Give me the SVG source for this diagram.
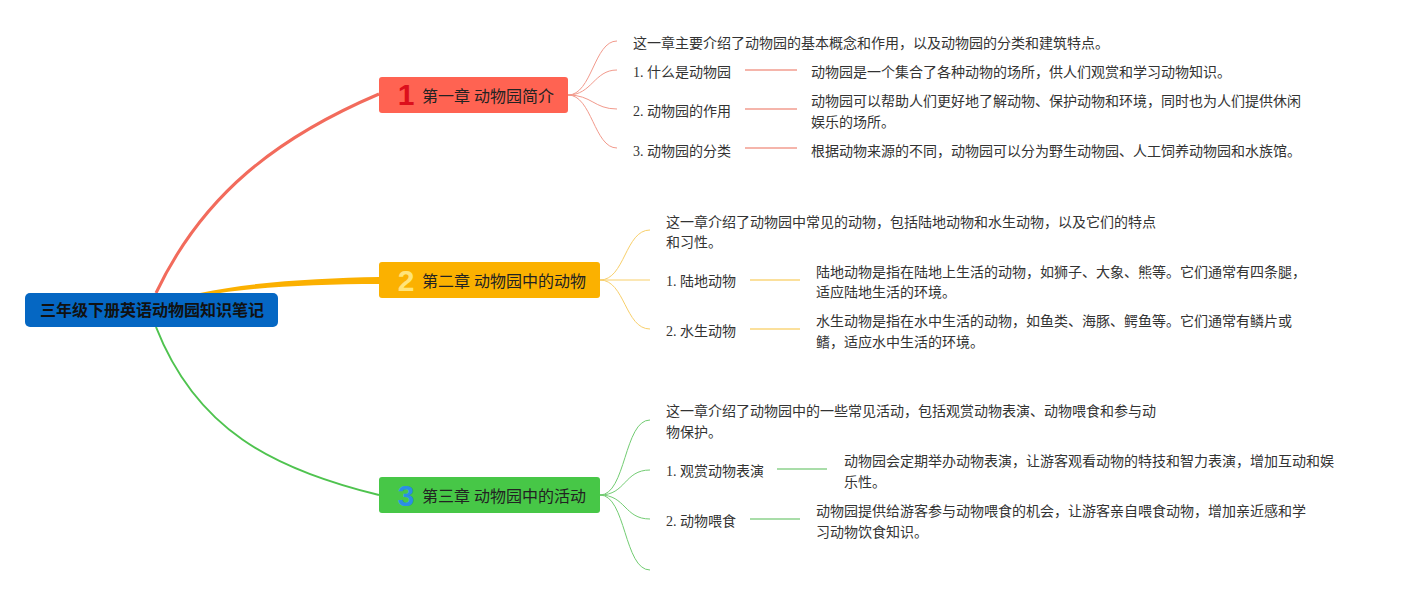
<svg xmlns="http://www.w3.org/2000/svg" width="1403" height="595" viewBox="0 0 1403 595">
<style>
  .t{font-family:"Liberation Serif","Noto Sans CJK SC",serif;font-size:14px;fill:#333;}
  .ch{font-family:"Liberation Serif","Noto Sans CJK SC",serif;font-size:16px;fill:#222;}
  .root{font-family:"Noto Sans CJK SC",sans-serif;font-size:16px;font-weight:bold;fill:#111;}
  .num{font-family:"Liberation Sans",sans-serif;font-size:30px;font-weight:bold;text-anchor:middle;}
  .f1{fill:none;stroke:#f29a8c;stroke-width:1;}
  .f2{fill:none;stroke:#f8cf6a;stroke-width:1;}
  .f3{fill:none;stroke:#72cc72;stroke-width:1;}
  .s1{stroke:#f5b5ab;stroke-width:2;}
  .s2{stroke:#fbe09c;stroke-width:2;}
  .s3{stroke:#a9dda9;stroke-width:2;}
</style>
<rect width="1403" height="595" fill="#ffffff"/>
<g id="connectors">
  <path d="M156,293 C203,194 278,137 379,94" fill="none" stroke="#f26b5c" stroke-width="3"/>
  <path d="M200,293 C250,282 320,278 379,277 L379,284 C320,284 260,287 220,293 Z" fill="#fbb000"/>
  <path d="M156,327 C196,429 272,469 379,495" fill="none" stroke="#4fc34f" stroke-width="2"/>
  <path class="f1" d="M568,95 C592,95 594,41 617,41"/>
  <path class="f1" d="M568,95 C592,95 594,70 617,70"/>
  <path class="f1" d="M568,95 C592,95 594,109 617,109"/>
  <path class="f1" d="M568,95 C592,95 594,148 617,148"/>
  <line class="s1" x1="745" y1="70" x2="797" y2="70"/>
  <line class="s1" x1="745" y1="109" x2="797" y2="109"/>
  <line class="s1" x1="745" y1="148" x2="797" y2="148"/>
  <path class="f2" d="M600,280 C625,280 625,230 650,230"/>
  <path class="f2" d="M600,280 L650,280"/>
  <path class="f2" d="M600,280 C625,280 625,329 650,329"/>
  <line class="s2" x1="750" y1="280" x2="800" y2="280"/>
  <line class="s2" x1="750" y1="329" x2="800" y2="329"/>
  <path class="f3" d="M600,495 C626,495 624,420 650,420"/>
  <path class="f3" d="M600,495 C626,495 624,470 650,470"/>
  <path class="f3" d="M600,495 C626,495 624,519 650,519"/>
  <path class="f3" d="M600,495 C626,495 624,570 650,570"/>
  <line class="s3" x1="777" y1="469" x2="827" y2="469"/>
  <line class="s3" x1="750" y1="519" x2="800" y2="519"/>
</g>
<g id="root">
  <rect x="25" y="293" width="253" height="34" rx="5" fill="#0567c3"/>
  <text class="root" x="152" y="316" text-anchor="middle">三年级下册英语动物园知识笔记</text>
</g>
<g id="chapter1">
  <rect x="379" y="77" width="189" height="36" rx="3" fill="#ff6352"/>
  <text class="num" x="406" y="105" fill="#dc0f1c">1</text>
  <text class="ch" x="422" y="102">第一章 动物园简介</text>
</g>
<g id="ch1-summary"><text class="t" x="633" y="48">这一章主要介绍了动物园的基本概念和作用，以及动物园的分类和建筑特点。</text></g>
<g id="ch1-item1"><text class="t" x="633" y="77">1. 什么是动物园</text></g>
<g id="ch1-item1-detail"><text class="t" x="811" y="77">动物园是一个集合了各种动物的场所，供人们观赏和学习动物知识。</text></g>
<g id="ch1-item2"><text class="t" x="633" y="116">2. 动物园的作用</text></g>
<g id="ch1-item2-detail"><text class="t" x="811" y="106">动物园可以帮助人们更好地了解动物、保护动物和环境，同时也为人们提供休闲</text><text class="t" x="811" y="127">娱乐的场所。</text></g>
<g id="ch1-item3"><text class="t" x="633" y="156">3. 动物园的分类</text></g>
<g id="ch1-item3-detail"><text class="t" x="811" y="156">根据动物来源的不同，动物园可以分为野生动物园、人工饲养动物园和水族馆。</text></g>
<g id="chapter2">
  <rect x="379" y="262" width="221" height="36" rx="3" fill="#fbb100"/>
  <text class="num" x="406" y="291" fill="#ffe47a">2</text>
  <text class="ch" x="422" y="287">第二章 动物园中的动物</text>
</g>
<g id="ch2-summary"><text class="t" x="666" y="227">这一章介绍了动物园中常见的动物，包括陆地动物和水生动物，以及它们的特点</text><text class="t" x="666" y="247">和习性。</text></g>
<g id="ch2-item1"><text class="t" x="666" y="286">1. 陆地动物</text></g>
<g id="ch2-item1-detail"><text class="t" x="816" y="277">陆地动物是指在陆地上生活的动物，如狮子、大象、熊等。它们通常有四条腿，</text><text class="t" x="816" y="297">适应陆地生活的环境。</text></g>
<g id="ch2-item2"><text class="t" x="666" y="336">2. 水生动物</text></g>
<g id="ch2-item2-detail"><text class="t" x="816" y="326">水生动物是指在水中生活的动物，如鱼类、海豚、鳄鱼等。它们通常有鳞片或</text><text class="t" x="816" y="347">鳍，适应水中生活的环境。</text></g>
<g id="chapter3">
  <rect x="379" y="477" width="221" height="36" rx="3" fill="#47c747"/>
  <text class="num" x="406" y="506" fill="#2b8ee6">3</text>
  <text class="ch" x="422" y="502">第三章 动物园中的活动</text>
</g>
<g id="ch3-summary"><text class="t" x="666" y="416">这一章介绍了动物园中的一些常见活动，包括观赏动物表演、动物喂食和参与动</text><text class="t" x="666" y="437">物保护。</text></g>
<g id="ch3-item1"><text class="t" x="666" y="476">1. 观赏动物表演</text></g>
<g id="ch3-item1-detail"><text class="t" x="844" y="466">动物园会定期举办动物表演，让游客观看动物的特技和智力表演，增加互动和娱</text><text class="t" x="844" y="487">乐性。</text></g>
<g id="ch3-item2"><text class="t" x="666" y="526">2. 动物喂食</text></g>
<g id="ch3-item2-detail"><text class="t" x="816" y="516">动物园提供给游客参与动物喂食的机会，让游客亲自喂食动物，增加亲近感和学</text><text class="t" x="816" y="537">习动物饮食知识。</text></g>
</svg>
